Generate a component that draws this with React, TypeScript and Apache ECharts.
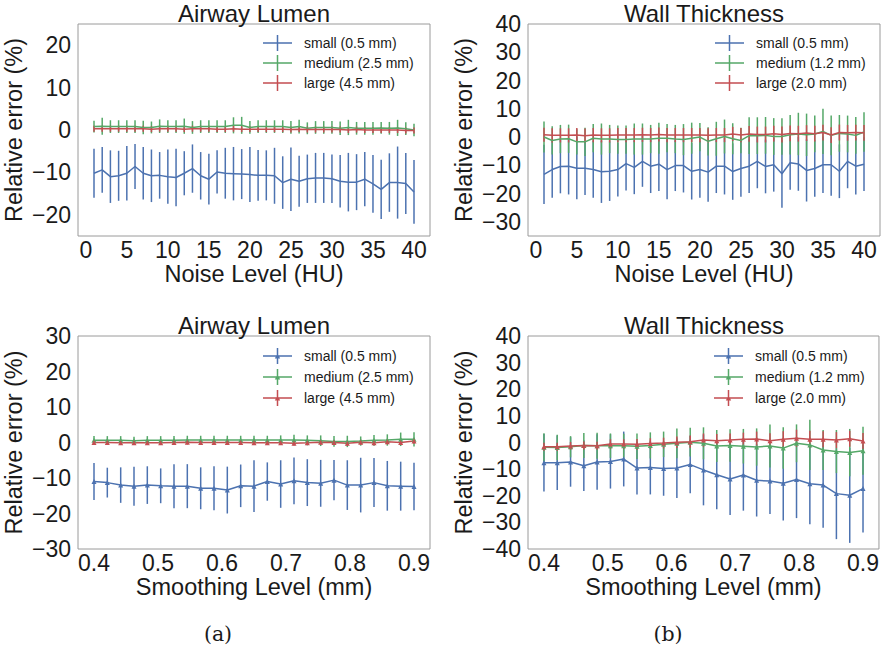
import React, { useEffect, useRef } from "react";
import * as echarts from "echarts";

// ---------- data ----------
const noiseLevels = [1, 2, 3, 4, 5, 6, 7, 8, 9, 10, 11, 12, 13, 14, 15, 16, 17, 18, 19, 20, 21, 22, 23, 24, 25, 26, 27, 28, 29, 30, 31, 32, 33, 34, 35, 36, 37, 38, 39, 40];
const smoothingLevels = [0.4, 0.4208, 0.4417, 0.4625, 0.4833, 0.5042, 0.525, 0.5458, 0.5667, 0.5875, 0.6083, 0.6292, 0.65, 0.6708, 0.6917, 0.7125, 0.7333, 0.7542, 0.775, 0.7958, 0.8167, 0.8375, 0.8583, 0.8792, 0.9];

const noiseTicks = [0, 5, 10, 15, 20, 25, 30, 35, 40];
const smoothingTicks = [0.4, 0.5, 0.6, 0.7, 0.8, 0.9];
const lumenNoiseYTicks = [-20, -10, 0, 10, 20];
const wallNoiseYTicks = [-30, -20, -10, 0, 10, 20, 30, 40];
const lumenSmoothYTicks = [-30, -20, -10, 0, 10, 20, 30];
const wallSmoothYTicks = [-40, -30, -20, -10, 0, 10, 20, 30, 40];

const lumenNames = ["small (0.5 mm)", "medium (2.5 mm)", "large (4.5 mm)"];
const wallNames = ["small (0.5 mm)", "medium (1.2 mm)", "large (2.0 mm)"];

// (a) top: Airway Lumen vs noise
const lumenNoiseSmallMean = [-10.2, -9.4, -11.0, -10.8, -10.2, -8.6, -10.2, -10.8, -10.7, -11.0, -11.2, -10.2, -9.1, -10.8, -11.6, -9.9, -10.2, -10.3, -10.4, -10.5, -10.7, -10.7, -10.8, -12.4, -11.6, -12.1, -11.5, -11.3, -11.3, -11.5, -12.1, -12.3, -12.3, -11.6, -12.7, -14.0, -12.4, -12.4, -12.6, -14.6];
const lumenNoiseSmallErr = [5.8, 5.4, 6.2, 5.9, 6.4, 5.3, 6.2, 6.2, 5.5, 6.4, 6.8, 5.2, 5.7, 5.6, 6.0, 5.1, 6.0, 6.3, 5.9, 6.5, 6.0, 5.9, 6.6, 6.2, 7.5, 6.0, 5.7, 5.9, 5.9, 5.7, 6.2, 6.9, 6.6, 6.4, 6.8, 7.0, 6.9, 8.5, 7.2, 7.5];
const lumenNoiseMediumMean = [0.8, 0.9, 0.8, 0.8, 0.8, 0.8, 0.6, 0.6, 0.9, 0.8, 0.8, 0.9, 0.6, 0.8, 0.8, 0.8, 0.8, 1.1, 1.1, 0.6, 0.8, 0.8, 0.8, 0.8, 0.6, 0.8, 0.4, 0.6, 0.6, 0.6, 0.4, 0.6, 0.4, 0.4, 0.4, 0.5, 0.4, 0.5, 0.3, 0.0];
const lumenNoiseMediumErr = [1.4, 2.0, 1.5, 1.5, 1.5, 1.5, 1.6, 1.4, 1.6, 1.5, 1.5, 1.8, 1.5, 1.5, 1.5, 1.5, 1.5, 1.9, 2.0, 1.5, 1.5, 1.5, 1.5, 1.5, 1.5, 1.6, 1.4, 1.5, 1.5, 1.5, 1.6, 1.8, 1.5, 1.5, 1.5, 1.4, 1.5, 1.9, 1.5, 1.5];
const lumenNoiseLargeMean = [0.3, 0.3, 0.3, 0.3, 0.3, 0.3, 0.3, 0.2, 0.3, 0.3, 0.3, 0.2, 0.3, 0.3, 0.3, 0.2, 0.2, 0.3, 0.2, 0.2, 0.2, 0.2, 0.2, 0.2, 0.1, 0.2, 0.1, 0.1, 0.1, 0.1, 0.1, 0.0, 0.1, 0.0, 0.0, 0.0, 0.0, 0.0, -0.1, -0.1];
const lumenNoiseLargeErr = [0.7, 0.7, 0.7, 0.7, 0.7, 0.7, 0.7, 0.7, 0.7, 0.7, 0.7, 0.7, 0.7, 0.7, 0.7, 0.7, 0.7, 0.7, 0.7, 0.7, 0.7, 0.7, 0.7, 0.7, 0.7, 0.7, 0.7, 0.7, 0.7, 0.7, 0.7, 0.7, 0.7, 0.7, 0.7, 0.7, 0.7, 0.7, 0.7, 0.7];

// (b) top: Wall Thickness vs noise
const wallNoiseSmallMean = [-13.2, -11.5, -10.4, -10.3, -11.0, -11.0, -11.5, -12.3, -12.1, -11.5, -9.4, -10.7, -8.6, -10.3, -9.6, -11.5, -10.1, -10.1, -12.1, -11.5, -12.4, -10.3, -10.3, -12.2, -11.1, -10.3, -8.6, -10.4, -9.8, -13.0, -9.1, -9.5, -11.8, -11.1, -9.8, -9.8, -12.1, -8.6, -10.3, -9.6];
const wallNoiseSmallErr = [10.5, 10.0, 9.5, 10.0, 11.0, 9.5, 10.0, 11.0, 10.5, 9.5, 9.5, 9.5, 9.0, 9.5, 9.5, 10.5, 9.0, 9.5, 10.0, 10.0, 10.5, 9.5, 10.0, 10.0, 10.0, 9.5, 9.5, 9.5, 9.5, 12.0, 9.5, 9.5, 11.0, 10.0, 10.0, 11.0, 9.5, 9.5, 10.0, 9.5];
const wallNoiseMediumMean = [0.0, -1.2, -0.7, -0.6, -1.7, -1.7, -0.4, -0.7, -0.7, -0.9, -0.9, -0.7, -0.7, -0.7, -0.4, -0.4, -0.7, -0.9, -0.4, 0.0, -1.5, -0.6, 0.2, -0.6, -1.2, 0.5, 0.5, 0.6, 0.2, 0.2, 0.8, 1.1, 0.8, 1.1, 2.0, 0.6, 1.3, 1.1, 0.6, 1.8];
const wallNoiseMediumErr = [5.5, 5.0, 5.0, 5.0, 4.5, 5.0, 5.0, 5.5, 5.0, 5.0, 5.0, 5.5, 5.5, 5.0, 5.5, 5.0, 5.0, 5.5, 5.5, 5.0, 5.0, 6.0, 6.0, 5.5, 4.5, 6.5, 6.5, 6.5, 6.5, 6.5, 7.0, 7.5, 7.5, 6.5, 8.0, 7.0, 6.5, 6.5, 6.5, 7.0];
const wallNoiseLargeMean = [0.8, 0.6, 0.6, 0.6, 0.7, 0.5, 0.7, 0.6, 0.6, 0.7, 0.7, 0.7, 0.8, 0.7, 0.9, 0.7, 0.7, 0.7, 0.7, 0.7, 0.6, 0.7, 0.7, 1.1, 0.7, 1.1, 0.9, 0.9, 1.2, 0.9, 1.3, 1.2, 1.4, 1.2, 1.6, 0.7, 1.6, 1.5, 1.6, 1.5];
const wallNoiseLargeErr = [2.5, 2.5, 2.5, 2.5, 2.5, 2.5, 2.5, 2.5, 2.5, 2.5, 2.5, 2.5, 2.5, 2.5, 2.5, 2.5, 2.5, 2.5, 2.5, 2.5, 2.5, 2.5, 2.5, 2.5, 2.5, 2.8, 2.8, 2.8, 2.8, 2.8, 2.8, 2.8, 2.8, 2.8, 2.8, 2.8, 2.8, 2.8, 2.8, 2.8];

// (a) bottom: Airway Lumen vs smoothing
const lumenSmoothSmallMean = [-11.0, -11.3, -12.0, -12.3, -12.0, -12.2, -12.3, -12.3, -12.9, -12.9, -13.4, -12.2, -12.3, -11.0, -11.7, -10.8, -11.3, -11.5, -10.6, -12.0, -12.0, -11.3, -12.2, -12.3, -12.4];
const lumenSmoothSmallErr = [5.2, 4.2, 5.0, 5.5, 5.3, 4.9, 6.2, 6.2, 5.9, 6.2, 6.6, 6.0, 7.3, 5.4, 6.7, 6.6, 6.6, 6.6, 5.7, 7.0, 7.7, 6.9, 7.0, 6.9, 6.7];
const lumenSmoothMediumMean = [0.6, 0.6, 0.6, 0.5, 0.6, 0.6, 0.6, 0.7, 0.7, 0.7, 0.7, 0.7, 0.7, 0.7, 0.7, 0.7, 0.6, 0.5, 0.3, 0.3, 0.4, 0.6, 0.7, 0.9, 0.9];
const lumenSmoothMediumErr = [1.2, 1.2, 1.2, 1.1, 1.2, 1.2, 1.2, 1.2, 1.2, 1.2, 1.2, 1.2, 1.2, 1.2, 1.3, 1.5, 1.4, 1.5, 1.5, 1.6, 1.3, 1.5, 1.6, 1.9, 2.0];
const lumenSmoothLargeMean = [0.0, 0.0, -0.1, -0.1, -0.1, -0.1, 0.0, 0.1, 0.0, 0.0, 0.0, 0.0, -0.1, -0.1, -0.1, -0.2, -0.1, 0.1, 0.0, -0.2, 0.1, -0.1, 0.2, 0.0, 0.4];
const lumenSmoothLargeErr = [0.6, 0.6, 0.6, 0.6, 0.6, 0.6, 0.6, 0.6, 0.6, 0.6, 0.6, 0.6, 0.6, 0.6, 0.6, 0.6, 0.6, 0.7, 0.7, 0.7, 0.7, 0.7, 0.7, 0.7, 0.7];

// (b) bottom: Wall Thickness vs smoothing
const wallSmoothSmallMean = [-7.6, -7.6, -7.3, -8.7, -7.3, -7.1, -6.2, -9.6, -9.4, -9.8, -9.6, -8.3, -10.3, -12.1, -13.7, -12.2, -14.2, -14.5, -15.3, -13.9, -15.5, -16.0, -19.2, -19.8, -17.3];
const wallSmoothSmallErr = [10.8, 10.2, 9.3, 9.5, 10.4, 10.2, 10.3, 9.9, 10.1, 10.2, 11.2, 10.8, 13.3, 13.0, 13.5, 13.4, 13.6, 12.4, 14.0, 14.5, 15.2, 16.0, 17.1, 17.9, 16.5];
const wallSmoothMediumMean = [-1.8, -1.9, -1.6, -1.1, -1.2, -1.2, -1.2, -1.4, -1.1, -0.7, -0.3, 0.1, -0.3, -1.3, -1.1, -1.4, -1.7, -1.3, -2.1, -0.3, -0.9, -2.8, -3.4, -3.8, -3.1];
const wallSmoothMediumErr = [5.3, 4.8, 4.0, 4.7, 4.9, 4.6, 4.5, 4.8, 4.9, 4.8, 5.6, 5.4, 6.0, 6.0, 6.1, 6.5, 7.0, 8.1, 7.8, 7.1, 9.4, 7.5, 8.1, 8.9, 9.0];
const wallSmoothLargeMean = [-1.6, -1.6, -1.3, -1.1, -1.2, -0.6, -0.6, -0.7, -0.4, -0.2, 0.1, 0.3, 0.9, 0.7, 0.9, 1.2, 1.3, 0.7, 1.2, 1.6, 1.2, 1.2, 0.9, 1.4, 0.6];
const wallSmoothLargeErr = [1.5, 1.5, 1.5, 1.5, 1.5, 1.8, 1.8, 2.0, 2.0, 2.0, 2.2, 2.3, 2.5, 2.5, 2.5, 2.5, 2.8, 2.8, 3.0, 3.2, 3.2, 3.0, 3.0, 3.0, 3.0];

// ---------- styling ----------
const FONT = "Liberation Sans";
const TEXT = "#1a1a1a";
const COLORS = ["#4C72B0", "#55A868", "#C44E52"];
const ICON_PLAIN = "path://M0,7.25H13.75V0H15.25V7.25H29V8.75H15.25V16H13.75V8.75H0Z";
const ICON_MARK = "path://M0,7.25H13.75V0H15.25V7.25H29V8.75H15.25V16H13.75V8.75H0Z M11.8,10.6L14.5,5.6L17.2,10.6Z";

const fmt = (v: number, dec: number) => {
  const s = Math.abs(v).toFixed(dec);
  return v < 0 ? "\u2212" + s : s;
};

type Panel = {
  box: [number, number, number, number];
  xs: number[];
  xMin: number; xMax: number; xTicks: number[]; xDec: number; xName: string;
  yMin: number; yMax: number; yTicks: number[];
  title: string;
  names: string[];
  means: number[][];
  errs: number[][];
  marker: boolean;
  legendLeft: number; legendTop: number; legendGap: number;
};

const panels: Panel[] = [
  {
    box: [78, 24, 352, 212], xs: noiseLevels, xMin: -0.95, xMax: 41.95, xTicks: noiseTicks, xDec: 0, xName: "Noise Level (HU)",
    yMin: -25, yMax: 25, yTicks: lumenNoiseYTicks, title: "Airway Lumen", names: lumenNames,
    means: [lumenNoiseSmallMean, lumenNoiseMediumMean, lumenNoiseLargeMean],
    errs: [lumenNoiseSmallErr, lumenNoiseMediumErr, lumenNoiseLargeErr], marker: false,
    legendLeft: 263, legendTop: 35, legendGap: 4,
  },
  {
    box: [528, 24, 352, 212], xs: noiseLevels, xMin: -0.95, xMax: 41.95, xTicks: noiseTicks, xDec: 0, xName: "Noise Level (HU)",
    yMin: -35, yMax: 40, yTicks: wallNoiseYTicks, title: "Wall Thickness", names: wallNames,
    means: [wallNoiseSmallMean, wallNoiseMediumMean, wallNoiseLargeMean],
    errs: [wallNoiseSmallErr, wallNoiseMediumErr, wallNoiseLargeErr], marker: false,
    legendLeft: 715, legendTop: 35, legendGap: 4,
  },
  {
    box: [78, 336, 352, 213], xs: smoothingLevels, xMin: 0.375, xMax: 0.925, xTicks: smoothingTicks, xDec: 1, xName: "Smoothing Level (mm)",
    yMin: -30, yMax: 30, yTicks: lumenSmoothYTicks, title: "Airway Lumen", names: lumenNames,
    means: [lumenSmoothSmallMean, lumenSmoothMediumMean, lumenSmoothLargeMean],
    errs: [lumenSmoothSmallErr, lumenSmoothMediumErr, lumenSmoothLargeErr], marker: true,
    legendLeft: 263, legendTop: 348, legendGap: 5,
  },
  {
    box: [528, 336, 352, 213], xs: smoothingLevels, xMin: 0.375, xMax: 0.925, xTicks: smoothingTicks, xDec: 1, xName: "Smoothing Level (mm)",
    yMin: -40, yMax: 40, yTicks: wallSmoothYTicks, title: "Wall Thickness", names: wallNames,
    means: [wallSmoothSmallMean, wallSmoothMediumMean, wallSmoothLargeMean],
    errs: [wallSmoothSmallErr, wallSmoothMediumErr, wallSmoothLargeErr], marker: true,
    legendLeft: 714, legendTop: 348, legendGap: 5,
  },
];

function buildOption() {
  const grid: any[] = [];
  const xAxis: any[] = [];
  const yAxis: any[] = [];
  const legend: any[] = [];
  const series: any[] = [];
  const graphic: any[] = [];

  panels.forEach((p, i) => {
    const [l, t, w, h] = p.box;
    grid.push({ left: l, top: t, width: w, height: h, show: true, borderColor: "#9a9a9a", borderWidth: 1, backgroundColor: "#ffffff" });
    xAxis.push({
      type: "value", gridIndex: i, min: p.xMin, max: p.xMax,
      name: p.xName, nameLocation: "middle", nameGap: 23,
      nameTextStyle: { fontFamily: FONT, fontSize: 23.5, color: TEXT },
      axisLine: { show: false }, axisTick: { show: false }, splitLine: { show: false },
      axisLabel: {
        customValues: p.xTicks, margin: 2, fontFamily: FONT, fontSize: 23, color: TEXT,
        formatter: (v: number) => fmt(v, p.xDec),
      },
    });
    yAxis.push({
      type: "value", gridIndex: i, min: p.yMin, max: p.yMax,
      name: "Relative error (%)", nameLocation: "middle", nameGap: 52,
      nameTextStyle: { fontFamily: FONT, fontSize: 23.5, color: TEXT },
      axisLine: { show: false }, axisTick: { show: false }, splitLine: { show: false },
      axisLabel: {
        customValues: p.yTicks, margin: 7, fontFamily: FONT, fontSize: 23, color: TEXT,
        formatter: (v: number) => fmt(v, 0),
      },
    });
    legend.push({
      orient: "vertical", left: p.legendLeft, top: p.legendTop, padding: 0,
      itemWidth: 29, itemHeight: 16, itemGap: p.legendGap,
      itemStyle: { borderWidth: 0 },
      selectedMode: false,
      textStyle: { fontFamily: FONT, fontSize: 14, color: TEXT, padding: [0, 0, 0, 7] },
      data: p.names.map((n) => ({ name: n, icon: p.marker ? ICON_MARK : ICON_PLAIN })),
    });
    graphic.push({
      type: "text", x: l + w / 2, y: t - 11,
      style: { text: p.title, fontFamily: FONT, fontSize: 24, fill: TEXT, align: "center", verticalAlign: "middle" },
    });

    p.names.forEach((name, k) => {
      const color = COLORS[k];
      const mean = p.means[k];
      const err = p.errs[k];
      series.push({
        type: "custom", name: `err-${i}-${k}`, xAxisIndex: i, yAxisIndex: i,
        data: p.xs.map((x, j) => [x, mean[j] - err[j], mean[j] + err[j]]),
        encode: { x: 0, y: [1, 2] },
        renderItem: (params: any, api: any) => {
          const a = api.coord([api.value(0), api.value(1)]);
          const b = api.coord([api.value(0), api.value(2)]);
          return {
            type: "line",
            shape: { x1: a[0], y1: a[1], x2: b[0], y2: b[1] },
            style: { stroke: color, lineWidth: 1.5 },
          };
        },
        silent: true,
      });
      series.push({
        type: "line", name, xAxisIndex: i, yAxisIndex: i,
        data: p.xs.map((x, j) => [x, mean[j]]),
        showSymbol: p.marker, symbol: p.marker ? "triangle" : "none", symbolSize: 5,
        itemStyle: { color, borderWidth: 0 },
        lineStyle: { color, width: 1.5 },
        silent: true,
      });
    });
  });

  graphic.push({
    type: "text", x: 218, y: 634,
    style: { text: "(a)", fontFamily: "DejaVu Serif", fontSize: 20.5, fill: TEXT, align: "center", verticalAlign: "middle" },
  });
  graphic.push({
    type: "text", x: 668, y: 634,
    style: { text: "(b)", fontFamily: "DejaVu Serif", fontSize: 20.5, fill: TEXT, align: "center", verticalAlign: "middle" },
  });

  return {
    animation: false,
    backgroundColor: "#ffffff",
    grid, xAxis, yAxis, legend, series, graphic,
  };
}

export default function App() {
  const ref = useRef<HTMLDivElement>(null);
  useEffect(() => {
    if (!ref.current) return;
    const chart = echarts.init(ref.current, undefined, { renderer: "svg" });
    chart.setOption(buildOption() as any);
    return () => chart.dispose();
  }, []);
  return (
    <div
      ref={ref}
      style={{ position: "absolute", left: 0, top: 0, width: 882, height: 650, background: "#fff" }}
    />
  );
}
